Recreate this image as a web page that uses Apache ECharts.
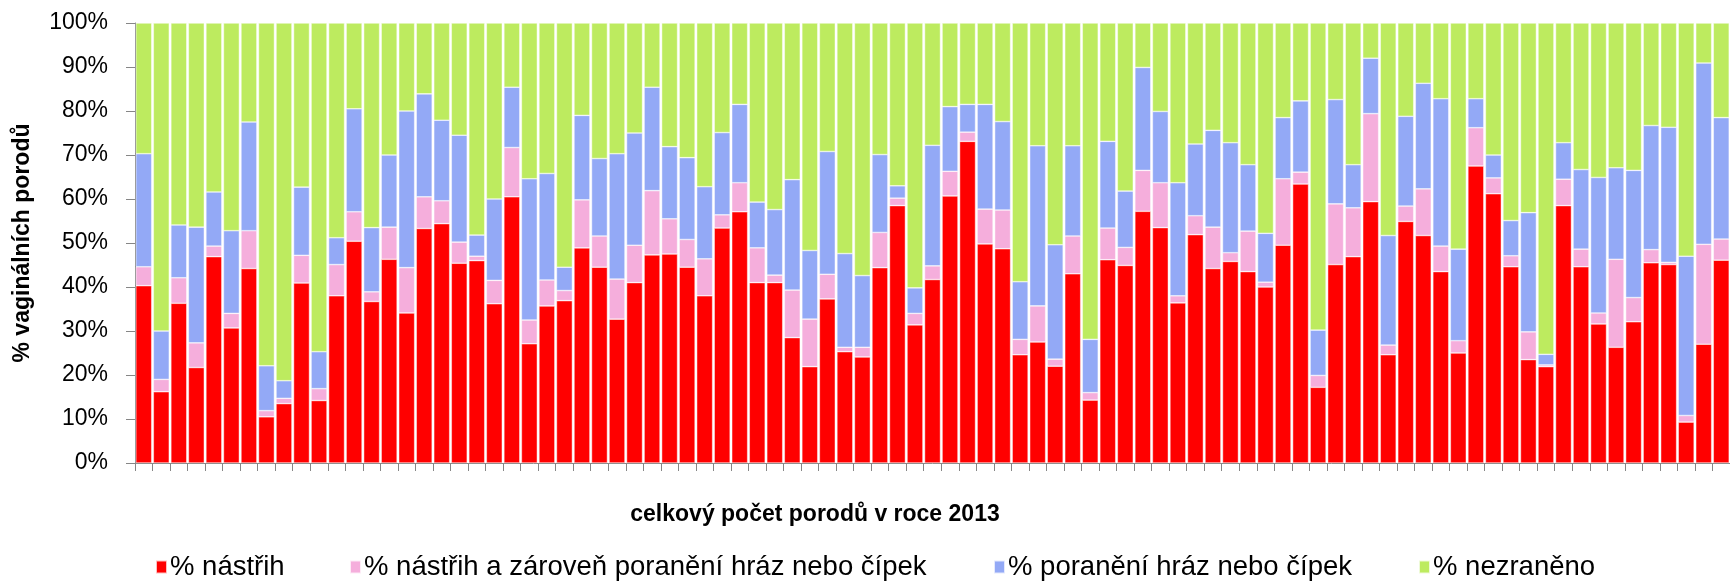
<!DOCTYPE html>
<html>
<head>
<meta charset="utf-8">
<script src="https://cdn.jsdelivr.net/npm/echarts@6/dist/echarts.min.js"></script>
<style>
html,body{margin:0;padding:0;background:#fff;}
#chart{width:1730px;height:581px;}
</style>
</head>
<body>
<div id="chart"></div>
<script>
var seriesNames = ['% nástřih', '% nástřih a zároveň poranění hráz nebo čípek', '% poranění hráz nebo čípek', '% nezraněno'];
var yTickLabels = ['0%','10%','20%','30%','40%','50%','60%','70%','80%','90%','100%'];
var xTitle = 'celkový počet porodů v roce 2013';
var yTitle = '% vaginálních porodů';

var nastrih = [40.3,16.2,36.3,21.7,46.9,30.7,44.2,10.5,13.5,40.9,14.2,38.0,50.4,36.7,46.3,34.1,53.3,54.4,45.4,46.0,36.2,60.5,27.1,35.7,36.9,48.9,44.5,32.7,41.0,47.3,47.5,44.5,38.0,53.4,57.1,41.0,41.0,28.5,21.9,37.3,25.3,24.1,44.4,58.5,31.4,41.7,60.7,73.1,49.8,48.7,24.6,27.5,22.0,43.0,14.3,46.2,44.9,57.2,53.5,36.4,51.9,44.2,45.8,43.5,40.0,49.5,63.4,17.2,45.1,46.9,59.4,24.6,54.9,51.7,43.5,25.0,67.5,61.2,44.6,23.5,21.9,58.5,44.6,31.6,26.3,32.1,45.5,45.1,9.3,27.0,46.1];
var nastrihPoraneni = [4.3,2.8,5.8,5.6,2.4,3.3,8.6,1.4,1.2,6.3,2.7,7.1,6.7,2.2,7.3,10.3,7.2,5.2,4.8,1.0,5.3,11.2,5.4,5.9,2.3,10.9,7.1,9.1,8.5,14.6,8.0,6.3,8.4,3.0,6.6,7.9,1.7,10.8,10.8,5.6,1.0,2.2,8.0,1.7,2.6,3.1,5.6,2.1,7.9,8.8,3.5,8.2,1.6,8.6,1.7,7.2,4.1,9.3,10.2,1.6,4.3,9.4,2.0,9.2,1.1,15.1,2.7,2.7,13.8,11.1,20.0,2.2,3.5,10.6,5.8,2.8,8.7,3.6,2.5,6.3,0.4,6.0,4.0,2.5,20.0,5.5,3.0,0.5,1.5,22.7,4.8];
var poraneni = [25.7,11.0,12.0,26.3,12.3,18.8,24.7,10.2,4.0,15.5,8.4,6.1,23.4,14.6,16.4,35.6,23.4,18.3,24.3,4.8,18.5,13.7,32.1,24.2,5.3,19.2,17.6,28.5,25.5,23.5,16.4,18.6,16.4,18.7,17.8,10.4,14.9,25.1,15.6,27.9,21.3,16.3,17.7,2.8,5.8,27.4,14.7,6.3,23.8,20.1,13.1,36.4,26.0,20.5,12.1,19.7,12.8,23.4,16.2,25.7,16.3,22.0,25.0,15.1,11.1,13.9,16.2,10.3,23.7,9.8,12.6,24.9,20.4,24.0,33.5,20.8,6.6,5.2,8.0,27.1,2.4,8.3,18.1,30.8,20.8,28.9,28.2,30.7,36.2,41.2,27.6];
var nezraneno = [29.7,70.0,45.9,46.4,38.4,47.2,22.5,77.9,81.3,37.3,74.7,48.8,19.5,46.5,30.0,20.0,16.1,22.1,25.5,48.2,40.0,14.6,35.4,34.2,55.5,21.0,30.8,29.7,25.0,14.6,28.1,30.6,37.2,24.9,18.5,40.7,42.4,35.6,51.7,29.2,52.4,57.4,29.9,37.0,60.2,27.8,19.0,18.5,18.5,22.4,58.8,27.9,50.4,27.9,71.9,26.9,38.2,10.1,20.1,36.3,27.5,24.4,27.2,32.2,47.8,21.5,17.7,69.8,17.4,32.2,8.0,48.3,21.2,13.7,17.2,51.4,17.2,30.0,44.9,43.1,75.3,27.2,33.3,35.1,32.9,33.5,23.3,23.7,53.0,9.1,21.5];

var categories = nastrih.map(function(_, i){ return String(i + 1); });

var colors = ['#FF0000', '#F5AEDC', '#93A9F6', '#BDEB5F'];
var dataArrays = [nastrih, nastrihPoraneni, poraneni, nezraneno];

var chart = echarts.init(document.getElementById('chart'), null, {renderer: 'canvas'});

var series = seriesNames.map(function(name, i){
  return {
    name: name,
    type: 'bar',
    stack: 'total',
    barCategoryGap: '9%',
    data: dataArrays[i],
    itemStyle: {color: colors[i], borderColor: 'rgba(255,255,255,0.75)', borderWidth: 0.6},
    emphasis: {disabled: true},
    animation: false
  };
});

var legendLefts = [155, 349, 993, 1418];
var legends = seriesNames.map(function(name, i){
  return {
    data: [name],
    left: legendLefts[i],
    top: 553,
    icon: 'rect',
    itemWidth: 11,
    itemHeight: 13,
    itemGap: 0,
    padding: 0,
    textStyle: {fontFamily: 'Liberation Sans', fontSize: 27.5, color: '#000', padding: [0,0,0,-2]},
    selectedMode: false
  };
});

chart.setOption({
  animation: false,
  backgroundColor: '#fff',
  color: colors,
  grid: {left: 135, right: -11, top: 23, bottom: 118, containLabel: false},
  legend: legends,
  xAxis: {
    type: 'category',
    data: categories,
    boundaryGap: true,
    axisLine: {show: true, lineStyle: {color: '#868686', width: 1}},
    axisTick: {show: true, length: 8, alignWithLabel: false, interval: 0, lineStyle: {color: '#868686', width: 1}},
    axisLabel: {show: false},
    splitLine: {show: false}
  },
  yAxis: {
    type: 'value',
    min: 0,
    max: 100,
    interval: 10,
    name: yTitle,
    nameLocation: 'middle',
    nameRotate: 90,
    nameGap: 101,
    nameTextStyle: {fontFamily: 'Liberation Sans', fontWeight: 'bold', fontSize: 23, color: '#000'},
    axisLine: {show: true, lineStyle: {color: '#868686', width: 1}},
    axisTick: {show: true, length: 9, inside: false, lineStyle: {color: '#868686', width: 1}},
    axisLabel: {
      margin: 27,
      fontFamily: 'Liberation Sans',
      fontSize: 23,
      color: '#000',
      formatter: function(v){ return yTickLabels[Math.round(v / 10)]; }
    },
    splitLine: {show: false}
  },
  graphic: [{
    type: 'text',
    x: 815,
    y: 515,
    style: {
      text: xTitle,
      fontFamily: 'Liberation Sans',
      fontWeight: 'bold',
      fontSize: 23,
      fill: '#000',
      align: 'center',
      verticalAlign: 'middle'
    }
  }],
  series: series
});
</script>
</body>
</html>
